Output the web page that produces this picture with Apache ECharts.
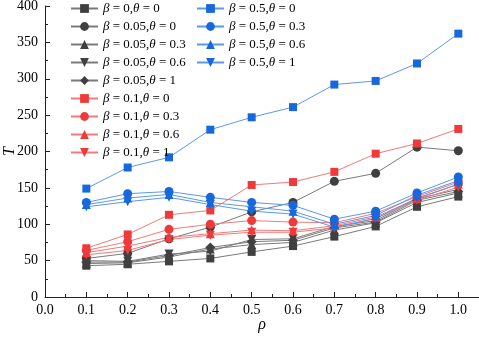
<!DOCTYPE html>
<html>
<head>
<meta charset="utf-8">
<script src="https://cdn.jsdelivr.net/npm/echarts@6/dist/echarts.min.js"></script>
<style>
  html, body { margin: 0; padding: 0; background: #fff; }
  #chart { width: 479px; height: 337px; }
</style>
</head>
<body>
<div id="chart"></div>
<script>
const rho = [0.1, 0.2, 0.3, 0.4, 0.5, 0.6, 0.7, 0.8, 0.9, 1.0];

// gray group
const b0t0 = [43, 45, 49, 53, 62, 70, 83, 97, 124, 138];
const b005t0 = [53, 60, 80, 96, 117, 130, 159, 170, 206, 201];
const b005t03 = [46, 47, 55, 66, 72, 75, 92, 102, 130, 143];
const b005t06 = [50, 49, 59, 63, 79, 80, 97, 105, 135, 148];
const b005t1 = [48, 48, 57, 68, 76, 78, 95, 103, 133, 145];
// red group
const b01t0 = [67, 86, 113, 119, 154, 158, 172, 197, 211, 231];
const b01t03 = [64, 76, 93, 100, 105, 103, 102, 115, 138, 158];
const b01t06 = [61, 70, 82, 87, 92, 91, 98, 110, 135, 155];
const b01t1 = [58, 64, 79, 85, 89, 89, 95, 108, 133, 151];
// blue group
const b05t0 = [149, 178, 192, 230, 247, 261, 292, 297, 321, 362];
const b05t03 = [130, 142, 145, 137, 130, 126, 107, 118, 143, 165];
const b05t06 = [127, 136, 141, 130, 124, 118, 100, 112, 140, 160];
const b05t1 = [124, 131, 137, 127, 118, 114, 96, 108, 136, 155];

const GRAY = ['#404040', '#7a7a7a'];
const RED = ['#f03a3a', '#f27a7a'];
const BLUE = ['#1668dc', '#5a98ea'];

const font = 'Liberation Serif';

function mk(name, vals, col, symbol, size, rotate) {
  return {
    name: name,
    type: 'line',
    data: vals.map((v, i) => [rho[i], v]),
    symbol: symbol,
    symbolSize: size,
    symbolRotate: rotate || 0,
    itemStyle: { color: col[0] },
    lineStyle: { color: col[1], width: 1 },
    emphasis: { disabled: true }
  };
}

const series = [
  mk('β=0,θ=0', b0t0, GRAY, 'rect', 8),
  mk('β=0.05,θ=0', b005t0, GRAY, 'circle', 9),
  mk('β=0.05,θ=0.3', b005t03, GRAY, 'triangle', 9),
  mk('β=0.05,θ=0.6', b005t06, GRAY, 'triangle', 9, 180),
  mk('β=0.05,θ=1', b005t1, GRAY, 'diamond', 10),
  mk('β=0.1,θ=0', b01t0, RED, 'rect', 8),
  mk('β=0.1,θ=0.3', b01t03, RED, 'circle', 9),
  mk('β=0.1,θ=0.6', b01t06, RED, 'triangle', 9),
  mk('β=0.1,θ=1', b01t1, RED, 'triangle', 9, 180),
  mk('β=0.5,θ=0', b05t0, BLUE, 'rect', 8),
  mk('β=0.5,θ=0.3', b05t03, BLUE, 'circle', 9),
  mk('β=0.5,θ=0.6', b05t06, BLUE, 'triangle', 9),
  mk('β=0.5,θ=1', b05t1, BLUE, 'triangle', 9, 180)
];

function legendText(name) {
  return name.replace(/β/g, '{i|β}').replace(/θ/g, '{i|θ}').replace(/=/g, ' = ');
}

const legendBase = {
  orient: 'vertical',
  top: -3,
  itemWidth: 27,
  itemHeight: 11,
  itemGap: 5,
  itemTextGap: 6,
  formatter: legendText,
  textStyle: {
    fontFamily: font, fontSize: 13, color: '#000', lineHeight: 13,
    rich: { i: { fontFamily: font, fontStyle: 'italic', fontSize: 13, color: '#000' } }
  }
};

const chart = echarts.init(document.getElementById('chart'));
chart.setOption({
  animation: false,
  backgroundColor: '#fff',
  legend: [
    Object.assign({}, legendBase, { left: 65, data: series.slice(0, 9).map(s => s.name) }),
    Object.assign({}, legendBase, { left: 191, data: series.slice(9).map(s => s.name) })
  ],
  grid: { left: 45, right: 0, top: 6, bottom: 40, outerBoundsMode: 'none', containLabel: false },
  xAxis: {
    type: 'value',
    min: 0,
    max: 1.05,
    interval: 0.1,
    name: 'ρ',
    nameLocation: 'middle',
    nameGap: 20,
    nameMoveOverlap: false,
    nameTextStyle: { fontFamily: font, fontStyle: 'italic', fontSize: 16, color: '#000' },
    axisLine: { lineStyle: { color: '#222', width: 1 } },
    axisTick: { inside: true, length: 5, lineStyle: { color: '#222' } },
    minorTick: { show: true, splitNumber: 2, length: 3, lineStyle: { color: '#222' } },
    splitLine: { show: false },
    axisLabel: {
      fontFamily: font, fontSize: 14, color: '#000', margin: 6,
      showMaxLabel: false,
      formatter: v => (v > 1.001 ? '' : v.toFixed(1))
    }
  },
  yAxis: {
    type: 'value',
    min: 0,
    max: 400,
    interval: 50,
    name: 'T',
    nameLocation: 'middle',
    nameRotate: 90,
    nameGap: 27,
    nameMoveOverlap: false,
    nameTextStyle: { fontFamily: font, fontStyle: 'italic', fontSize: 16, color: '#000' },
    axisLine: { show: true, lineStyle: { color: '#222', width: 1 } },
    axisTick: { show: true, inside: true, length: 5, lineStyle: { color: '#222' } },
    minorTick: { show: true, splitNumber: 2, length: 3, lineStyle: { color: '#222' } },
    splitLine: { show: false },
    axisLabel: { fontFamily: font, fontSize: 14, color: '#000', margin: 7 }
  },
  series: series
});
</script>
</body>
</html>
